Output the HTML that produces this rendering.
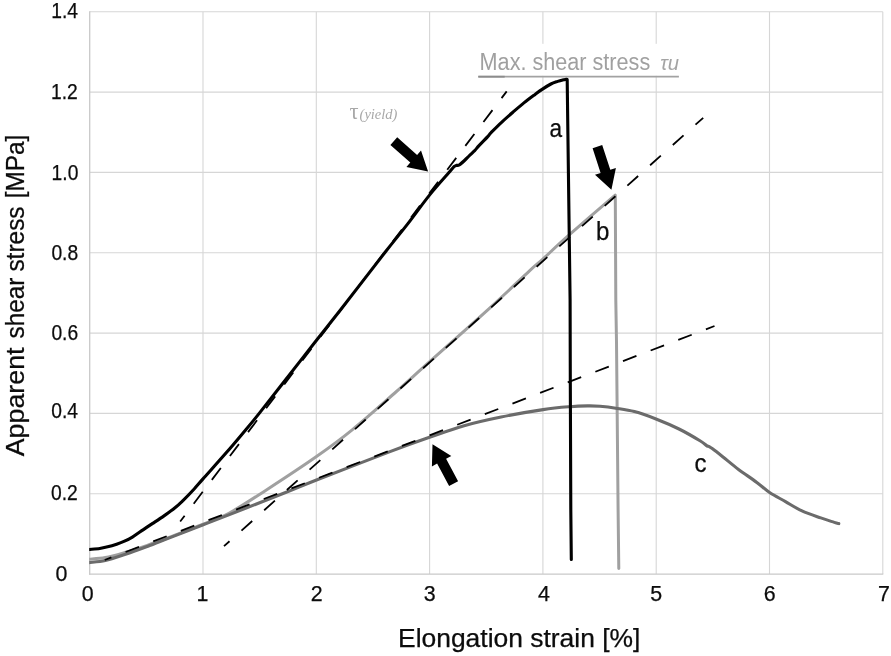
<!DOCTYPE html>
<html lang="en"><head><meta charset="utf-8"><title>Apparent shear stress vs elongation strain</title>
<style>html,body{margin:0;padding:0;background:#fff;}body{width:891px;height:656px;overflow:hidden;}svg{display:block;}text{font-family:"Liberation Sans",sans-serif;fill:#0c0c0c;stroke:#0c0c0c;stroke-width:0.25px;}.g{stroke:none;}.ser{font-family:"Liberation Serif",serif;}</style></head><body>
<svg width="891" height="656" viewBox="0 0 891 656">
<rect width="891" height="656" fill="#fff"/>
<g stroke="#d6d6d6" stroke-width="1.1" fill="none">
<line x1="203.0" y1="11.7" x2="203.0" y2="574.1"/>
<line x1="316.3" y1="11.7" x2="316.3" y2="574.1"/>
<line x1="429.6" y1="11.7" x2="429.6" y2="574.1"/>
<line x1="542.9" y1="11.7" x2="542.9" y2="574.1"/>
<line x1="656.2" y1="11.7" x2="656.2" y2="574.1"/>
<line x1="769.5" y1="11.7" x2="769.5" y2="574.1"/>
<line x1="882.8" y1="11.7" x2="882.8" y2="574.1"/>
<line x1="89.7" y1="493.8" x2="882.8" y2="493.8"/>
<line x1="89.7" y1="413.4" x2="882.8" y2="413.4"/>
<line x1="89.7" y1="333.1" x2="882.8" y2="333.1"/>
<line x1="89.7" y1="252.7" x2="882.8" y2="252.7"/>
<line x1="89.7" y1="172.4" x2="882.8" y2="172.4"/>
<line x1="89.7" y1="92.1" x2="882.8" y2="92.1"/>
<line x1="89.7" y1="11.7" x2="882.8" y2="11.7"/>
</g>
<g stroke="#c9c9c9" stroke-width="1.3" fill="none"><line x1="89.7" y1="11.2" x2="89.7" y2="574.7"/><line x1="89.1" y1="574.1" x2="883.3" y2="574.1"/></g>
<rect x="472" y="43.8" width="214" height="32" fill="#fff"/>
<clipPath id="cp"><rect x="89.2" y="0" width="802" height="656"/></clipPath>
<g fill="none" stroke-linecap="round" stroke-linejoin="round" clip-path="url(#cp)">
<path d="M88.8 559.2 C91.5 558.9 99.2 558.6 105.3 557.5 C111.4 556.4 118.5 554.3 125.5 552.3 C132.5 550.3 140.3 547.7 147.3 545.3 C154.3 542.9 160.8 540.5 167.5 538.0 C174.2 535.5 181.8 532.5 187.7 530.2 C193.6 527.9 196.2 527.1 203.2 524.2 C210.1 521.3 218.9 518.7 229.4 513.0 C239.9 507.3 251.9 499.3 266.4 489.9 C280.9 480.5 302.1 466.6 316.5 456.5 C330.9 446.4 339.6 440.1 352.8 429.3 C366.0 418.6 382.9 403.4 395.9 392.0 C408.8 380.6 414.8 374.9 430.5 360.9 C446.2 346.9 473.5 322.8 490.0 307.8 C506.5 292.8 520.7 278.9 529.5 270.8 C538.3 262.7 536.4 264.9 542.9 259.0 C549.4 253.1 556.5 246.1 568.6 235.4 C580.7 224.8 607.4 201.8 615.2 195.1 L615.3 196.0 L615.8 300.0 L616.5 342.0 L618.1 510.0 L618.8 568.4" stroke="#a0a0a0" stroke-width="3.0"/>
<path d="M88.8 562.6 C91.5 562.2 99.2 561.9 105.3 560.5 C111.4 559.1 118.5 556.6 125.5 554.3 C132.5 552.0 140.3 549.1 147.3 546.5 C154.3 543.9 160.8 541.2 167.5 538.6 C174.2 536.0 181.8 533.1 187.7 530.8 C193.6 528.5 196.2 527.5 203.2 524.8 C210.1 522.1 215.6 520.0 229.4 514.6 C243.2 509.2 271.7 498.1 286.2 492.3 C300.7 486.5 299.2 486.8 316.5 480.0 C333.8 473.2 371.2 458.7 390.0 451.6 C408.8 444.5 417.1 441.6 429.5 437.3 C441.9 433.0 452.2 429.1 464.1 425.7 C476.0 422.3 487.9 419.7 501.1 417.0 C514.3 414.3 531.6 411.3 543.1 409.6 C554.6 407.9 562.8 407.3 570.2 406.7 C577.6 406.1 582.5 406.0 587.5 405.9 C592.5 405.8 595.3 405.9 600.0 406.3 C604.7 406.7 610.1 407.3 615.8 408.2 C621.5 409.1 627.7 409.8 634.4 411.6 C641.1 413.4 648.6 416.1 656.0 419.0 C663.4 421.9 671.7 425.4 679.0 429.0 C686.3 432.6 695.4 438.0 700.0 440.8 C704.6 443.6 705.1 444.6 706.6 445.6 C708.1 446.6 708.3 446.1 709.2 446.6 C710.1 447.1 709.9 446.9 712.2 448.6 C714.5 450.3 718.6 453.5 723.0 457.0 C727.4 460.5 732.9 465.2 738.5 469.4 C744.1 473.6 751.6 478.5 756.8 482.4 C762.0 486.2 764.8 489.3 769.6 492.5 C774.4 495.7 780.1 498.5 785.5 501.6 C790.9 504.7 796.1 508.2 802.0 510.9 C807.9 513.6 815.4 516.0 820.8 517.9 C826.2 519.8 831.3 521.4 834.3 522.4 C837.3 523.4 838.0 523.4 838.8 523.6" stroke="#6b6b6b" stroke-width="3.1"/>
<path d="M88.7 549.5 C90.5 549.3 96.6 549.0 99.7 548.5 C102.8 548.0 104.8 547.5 107.6 546.8 C110.4 546.1 113.8 545.1 116.6 544.2 C119.4 543.3 121.9 542.4 124.5 541.2 C127.1 540.0 129.6 538.8 132.4 537.1 C135.2 535.4 138.0 533.2 141.4 530.9 C144.8 528.6 148.9 525.9 152.7 523.4 C156.5 520.9 160.2 518.5 164.0 515.9 C167.8 513.2 172.1 510.1 175.3 507.5 C178.5 504.9 180.0 503.4 183.2 500.3 C186.4 497.2 191.1 492.3 194.4 488.7 C197.7 485.1 197.7 484.9 203.0 478.9 C208.3 472.9 219.3 460.8 226.4 452.6 C233.5 444.5 240.1 436.5 245.6 430.0 C251.1 423.5 252.6 421.7 259.2 413.4 C265.8 405.1 275.8 392.2 285.4 380.0 C295.0 367.8 307.4 351.8 316.7 340.0 C326.0 328.2 329.6 323.8 341.0 309.2 C352.4 294.6 373.7 266.8 384.9 252.5 C396.1 238.2 400.7 233.0 408.1 223.4 C415.5 213.8 422.4 203.9 429.5 195.1 C436.6 186.2 446.8 175.1 450.9 170.3 C455.0 165.5 453.7 167.0 454.3 166.3 L456.5 165.3 C456.9 165.2 457.9 165.8 459.2 165.0 C460.5 164.2 462.9 162.0 464.5 160.5 C466.1 159.0 467.3 157.7 469.0 156.0 C470.7 154.3 473.0 152.3 474.7 150.6 C476.4 148.9 476.8 147.9 479.0 145.6 C481.2 143.3 485.7 138.8 487.7 136.6 C489.7 134.4 488.8 134.9 491.1 132.6 C493.4 130.3 497.7 125.9 501.3 122.6 C504.9 119.2 508.8 115.8 512.6 112.5 C516.4 109.2 520.1 105.9 523.9 102.9 C527.6 99.9 532.0 96.7 535.1 94.4 C538.2 92.1 539.9 90.8 542.5 89.1 C545.1 87.4 548.4 85.3 550.9 84.0 C553.4 82.7 555.3 82.2 557.7 81.4 C560.1 80.6 563.6 79.8 565.1 79.4 C566.6 79.0 566.7 79.2 567.0 79.2 L567.2 80.0 L567.9 134.0 L568.9 210.0 L570.1 300.0 L570.3 380.0 L570.8 510.0 L571.3 559.4" stroke="#000" stroke-width="3.1"/>
</g>
<g fill="none" stroke="#000" stroke-width="1.8" stroke-linecap="butt">
<line x1="180.2" y1="521.5" x2="506.7" y2="91.4" stroke-dasharray="14.9 15.05" stroke-dashoffset="7.6"/>
<line x1="224" y1="546.2" x2="703.2" y2="117.8" stroke-dasharray="14.4 16.05" stroke-dashoffset="7"/>
<line x1="104.75" y1="560.0" x2="714.5" y2="326" stroke-dasharray="14.4 15.2" stroke-dashoffset="7.3"/>
</g>
<g fill="#000">
<polygon points="390.4,144.9 410.3,162.6 406.4,167.0 428.1,171.6 421.0,150.6 417.1,155.0 397.2,137.3"/>
<polygon points="592.6,148.3 600.6,172.9 595.0,174.8 611.4,189.7 615.9,167.9 610.3,169.8 602.2,145.1"/>
<polygon points="458.1,481.3 446.1,458.8 451.3,456.0 432.5,444.2 431.9,466.4 437.1,463.6 449.1,486.1"/>
</g>
<line x1="478.3" y1="76.7" x2="678.9" y2="76.7" stroke="#a2a2a2" stroke-width="1.8"/><line x1="478.3" y1="76.7" x2="504.7" y2="76.7" stroke="#8c8c8c" stroke-width="1.8"/>
<text x="479.6" y="70.4" font-size="23" class="g" style="fill:#a0a0a0" textLength="170.6" lengthAdjust="spacingAndGlyphs">Max. shear stress</text>
<text class="g" x="660.2" y="70.3" font-size="20.8" font-style="italic" style="fill:#a4a4a4" textLength="18.8" lengthAdjust="spacingAndGlyphs">τu</text>
<text class="ser g" x="349.5" y="118.6" font-size="22.5" style="fill:#a8a8a8">τ<tspan font-size="14.5" font-style="italic" dx="1">(yield)</tspan></text>
<text x="549.6" y="137.3" font-size="25.5" textLength="12.6" lengthAdjust="spacingAndGlyphs">a</text>
<text x="596.0" y="239.7" font-size="25.5" textLength="13.4" lengthAdjust="spacingAndGlyphs">b</text>
<text x="694.4" y="472" font-size="25.5" textLength="12" lengthAdjust="spacingAndGlyphs">c</text>
<text x="78.0" y="17.7" font-size="21.4" text-anchor="end" textLength="26.8" lengthAdjust="spacingAndGlyphs">1.4</text>
<text x="77.8" y="98.6" font-size="21.4" text-anchor="end" textLength="26.8" lengthAdjust="spacingAndGlyphs">1.2</text>
<text x="78.4" y="180.1" font-size="21.4" text-anchor="end" textLength="26.8" lengthAdjust="spacingAndGlyphs">1.0</text>
<text x="78.2" y="259.8" font-size="21.4" text-anchor="end" textLength="26.8" lengthAdjust="spacingAndGlyphs">0.8</text>
<text x="78.2" y="340.2" font-size="21.4" text-anchor="end" textLength="26.8" lengthAdjust="spacingAndGlyphs">0.6</text>
<text x="78.0" y="417.8" font-size="21.4" text-anchor="end" textLength="26.8" lengthAdjust="spacingAndGlyphs">0.4</text>
<text x="77.8" y="500.0" font-size="21.4" text-anchor="end" textLength="26.8" lengthAdjust="spacingAndGlyphs">0.2</text>
<text x="67.3" y="581.4" font-size="21.4" text-anchor="end">0</text>
<text x="87.7" y="600.9" font-size="21.4" text-anchor="middle">0</text>
<text x="202.4" y="600.9" font-size="21.4" text-anchor="middle">1</text>
<text x="316.6" y="600.9" font-size="21.4" text-anchor="middle">2</text>
<text x="429.6" y="600.9" font-size="21.4" text-anchor="middle">3</text>
<text x="544.0" y="600.9" font-size="21.4" text-anchor="middle">4</text>
<text x="656.1" y="600.9" font-size="21.4" text-anchor="middle">5</text>
<text x="769.8" y="600.9" font-size="21.4" text-anchor="middle">6</text>
<text x="884.0" y="600.9" font-size="21.4" text-anchor="middle">7</text>
<text x="398.0" y="646.5" font-size="25" textLength="242.4" lengthAdjust="spacingAndGlyphs">Elongation strain [%]</text>
<g transform="translate(23.6 456.6) rotate(-90)" font-size="25"><text x="0.3" y="0" textLength="108.8" lengthAdjust="spacingAndGlyphs">Apparent</text><text x="118.1" y="0" textLength="60.9" lengthAdjust="spacingAndGlyphs">shear</text><text x="185.0" y="0" textLength="65.2" lengthAdjust="spacingAndGlyphs">stress</text><text x="258.4" y="0" textLength="63.6" lengthAdjust="spacingAndGlyphs">[MPa]</text></g>
</svg></body></html>
